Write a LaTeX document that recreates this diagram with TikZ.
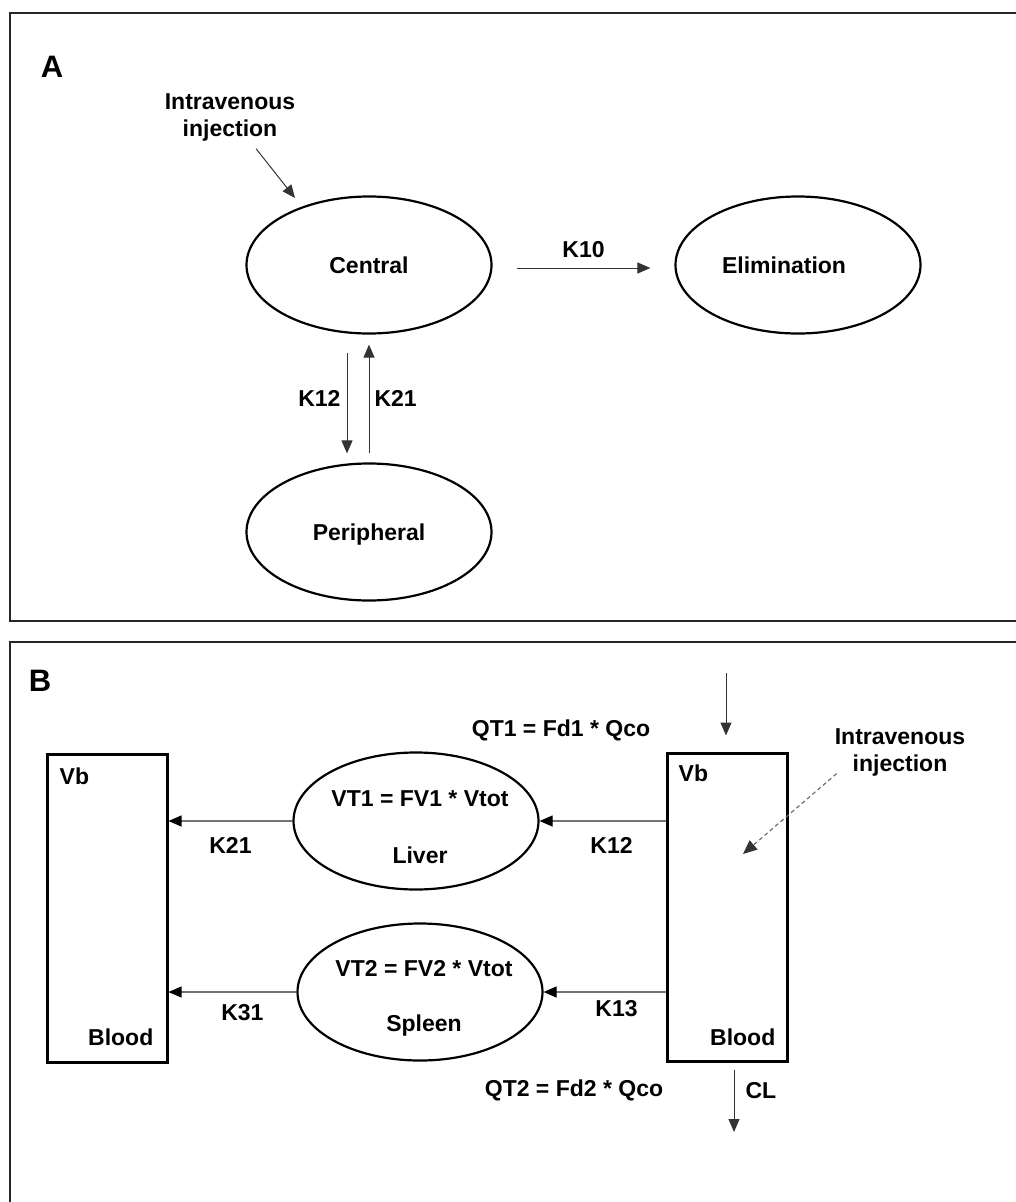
\documentclass[tikz,border=0pt]{standalone}
\usepackage{fontspec}
\setmainfont{Liberation Sans}
\usetikzlibrary{arrows.meta, calc, shapes.geometric}

\begin{document}
\begin{tikzpicture}[x=1pt, y=-1pt,
  every node/.style={font=\bfseries\fontsize{23}{27}\selectfont, inner sep=0pt, text depth=0pt},
  panel/.style={draw=black!85, line width=2pt},
  tag/.style={font=\bfseries\fontsize{31}{31}\selectfont},
  comp/.style={draw, ellipse, line width=2.2pt, minimum width=245pt, minimum height=137pt},
  vol/.style={draw, rectangle, line width=3pt, minimum width=120pt, minimum height=308pt},
  flow/.style={-{Triangle[length=13pt,width=11pt]}, draw=black!80, line width=1pt},
  gflow/.style={-{Triangle[length=13pt,width=11pt,color=black]}, draw=black!55, line width=1.2pt},
  dflow/.style={-{Triangle[length=14pt,width=12pt,color=black!80]}, draw=black!60, line width=1.1pt, dash pattern=on 4pt off 3pt}]
\useasboundingbox (0,0) rectangle (1016,1202);
% Panel frames
\draw[panel] (10,13) rectangle (1040,621);
\draw[panel] (10,642) rectangle (1040,1240);

% Panel A: two-compartment model
\node[tag] (tagA) at (52,67) {A};
\node[align=center] (ivA) at (230,115) {Intravenous\\injection};
\node[comp] (central) at (369,265) {Central};
\node[comp, label={[xshift=-14pt]center:Elimination}] (elim) at (798,265) {};
\node[comp] (peri) at (369,532) {Peripheral};
\coordinate (ivA-tip) at (295,198);
\draw[flow] ([shift={(26,12)}]ivA.south) -- (ivA-tip);
\draw[flow, shorten <=24pt, shorten >=24pt] ([yshift=-3pt]central.east) -- node[above=10pt] {K10} ([yshift=-3pt]elim.west);
\draw[flow, shorten <=18pt, shorten >=9pt] ([xshift=-22pt]central.south) -- node[left=6pt] {K12} ([xshift=-22pt]peri.north);
\draw[flow, shorten <=9pt, shorten >=10pt] (peri.north) -- node[right=5pt] {K21} (central.south);

% Panel B: blood, liver and spleen
\node[tag] (tagB) at (40,681) {B};
\node[vol] (bloodL) at (107,908) {};
\node[vol] (bloodR) at (727,907) {};
\node[anchor=west] (vbL) at ([shift={(14,24)}]bloodL.north west) {Vb};
\node[anchor=east] (bdL) at ([shift={(-15,-26)}]bloodL.south east) {Blood};
\node[anchor=west] (vbR) at ([shift={(13,22)}]bloodR.north west) {Vb};
\node[anchor=east] (bdR) at ([shift={(-13,-25)}]bloodR.south east) {Blood};
\node[comp] (liver) at (416,821) {};
\node (liver-vt) at ([shift={(4,-22)}]liver.center) {VT1 = FV1 * Vtot};
\node (liver-name) at ([shift={(4,34)}]liver.center) {Liver};
\node[comp] (spleen) at (420,992) {};
\node (spleen-vt) at ([shift={(4,-24)}]spleen.center) {VT2 = FV2 * Vtot};
\node (spleen-name) at ([shift={(4,31)}]spleen.center) {Spleen};
% Flows between compartments
\draw[gflow] (liver.east -| bloodR.west) -- node[below=16pt, xshift=9pt] {K12} (liver.east);
\draw[gflow] (liver.west) -- node[below=16pt] {K21} (liver.west -| bloodL.east);
\draw[gflow] (spleen.east -| bloodR.west) -- node[below=8pt, xshift=12pt] {K13} (spleen.east);
\draw[gflow] (spleen.west) -- node[below=12pt, xshift=10pt] {K31} (spleen.west -| bloodL.east);
% Input, clearance and injection
\node (qt1) at (561,728) {QT1 = Fd1 * Qco};
\node (qt2) at (574,1088) {QT2 = Fd2 * Qco};
\coordinate (iv-in) at (726,673);
\draw[flow, shorten >=16pt] (iv-in) -- (iv-in |- bloodR.north);
\coordinate (cl-out) at (734,1132);
\draw[flow, shorten <=7pt] (cl-out |- bloodR.south) -- node[right=11pt, yshift=7pt] {CL} (cl-out);
\node[align=center] (ivB) at (900,750) {Intravenous\\injection};
\coordinate (ivB-tip) at (743,854);
\draw[dflow] ([shift={(2,2)}]ivB.south west) -- (ivB-tip);
\end{tikzpicture}
\end{document}
